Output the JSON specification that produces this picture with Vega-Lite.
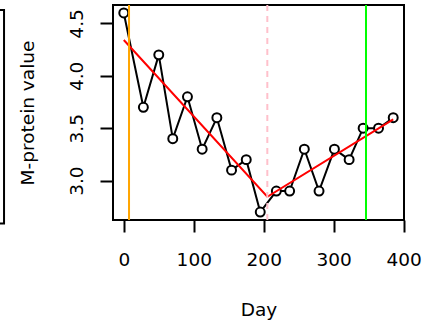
{
  "$schema": "https://vega.github.io/schema/vega-lite/v6.json",
  "width": 291,
  "height": 215,
  "autosize": {"type": "none"},
  "padding": {"left": 113, "top": 5, "right": 20, "bottom": 106},
  "background": "white",
  "config": {
    "font": "DejaVu Sans",
    "view": {"stroke": "black", "strokeWidth": 2},
    "axis": {
      "grid": false,
      "domain": false,
      "tickColor": "black",
      "tickWidth": 2,
      "labelColor": "black",
      "titleColor": "black",
      "labelFont": "DejaVu Sans",
      "titleFont": "DejaVu Sans",
      "labelFontSize": 18.5,
      "titleFontSize": 18.5,
      "titleFontWeight": "normal",
      "labelFlush": false,
      "labelOverlap": false
    }
  },
  "datasets": {
    "obs": [
      {"day": 0, "value": 4.6},
      {"day": 28, "value": 3.7},
      {"day": 50, "value": 4.2},
      {"day": 70, "value": 3.4},
      {"day": 91, "value": 3.8},
      {"day": 112, "value": 3.3},
      {"day": 133, "value": 3.6},
      {"day": 154, "value": 3.1},
      {"day": 175, "value": 3.2},
      {"day": 195, "value": 2.7},
      {"day": 218, "value": 2.9},
      {"day": 237, "value": 2.9},
      {"day": 258, "value": 3.3},
      {"day": 279, "value": 2.9},
      {"day": 301, "value": 3.3},
      {"day": 322, "value": 3.2},
      {"day": 342, "value": 3.5},
      {"day": 364, "value": 3.5},
      {"day": 385, "value": 3.6}
    ],
    "fit": [
      {"day": 0, "value": 4.342},
      {"day": 205.1, "value": 2.846},
      {"day": 385, "value": 3.585}
    ],
    "marks": [
      {"day": 7.5, "kind": "start"},
      {"day": 205.1, "kind": "nadir"},
      {"day": 346.1, "kind": "progression"}
    ],
    "neighbor": [
      {"x0": -700, "x1": -171.1, "y0": 2.591, "y1": 4.628}
    ]
  },
  "layer": [
    {
      "data": {"name": "neighbor"},
      "mark": {"type": "rect", "fillOpacity": 0, "stroke": "black", "strokeWidth": 2, "clip": false},
      "encoding": {
        "x": {"field": "x0", "type": "quantitative", "scale": {"domain": [-15.4, 400.4], "nice": false, "zero": false}},
        "x2": {"field": "x1"},
        "y": {"field": "y0", "type": "quantitative", "scale": {"domain": [2.624, 4.676], "nice": false, "zero": false}},
        "y2": {"field": "y1"}
      }
    },
    {
      "data": {"name": "obs"},
      "mark": {"type": "line", "color": "black", "strokeWidth": 2},
      "encoding": {
        "x": {
          "field": "day", "type": "quantitative",
          "scale": {"domain": [-15.4, 400.4], "nice": false, "zero": false},
          "axis": {
            "values": [0, 100, 200, 300, 400],
            "tickSize": 12,
            "labelPadding": 33.8,
            "labelBaseline": "alphabetic",
            "title": "Day",
            "titleY": 95.7,
            "titleBaseline": "alphabetic"
          }
        },
        "y": {
          "field": "value", "type": "quantitative",
          "scale": {"domain": [2.624, 4.676], "nice": false, "zero": false},
          "axis": {
            "values": [3, 3.5, 4, 4.5],
            "format": ".1f",
            "tickSize": 13,
            "labelAngle": -90,
            "labelAlign": "center",
            "labelBaseline": "alphabetic",
            "labelPadding": 17.5,
            "title": "M-protein value",
            "titleAngle": -90,
            "titleX": -80,
            "titleY": 107.5,
            "titleAlign": "center",
            "titleBaseline": "alphabetic"
          }
        }
      }
    },
    {
      "data": {"name": "obs"},
      "mark": {"type": "point", "shape": "circle", "filled": false, "fill": "white", "fillOpacity": 1, "stroke": "black", "strokeWidth": 2, "size": 80, "opacity": 1},
      "encoding": {
        "x": {"field": "day", "type": "quantitative"},
        "y": {"field": "value", "type": "quantitative"}
      }
    },
    {
      "data": {"name": "fit"},
      "mark": {"type": "line", "color": "#FF0000", "strokeWidth": 2},
      "encoding": {
        "x": {"field": "day", "type": "quantitative"},
        "y": {"field": "value", "type": "quantitative"}
      }
    },
    {
      "data": {"name": "marks"},
      "mark": {"type": "rule", "strokeWidth": 2},
      "encoding": {
        "x": {"field": "day", "type": "quantitative"},
        "color": {"field": "kind", "type": "nominal", "scale": {"domain": ["start", "nadir", "progression"], "range": ["#FFA500", "#FFC0CB", "#00FF00"]}, "legend": null},
        "strokeDash": {"field": "kind", "type": "nominal", "scale": {"domain": ["start", "nadir", "progression"], "range": [[1, 0], [6, 5], [1, 0]]}, "legend": null}
      }
    }
  ]
}
